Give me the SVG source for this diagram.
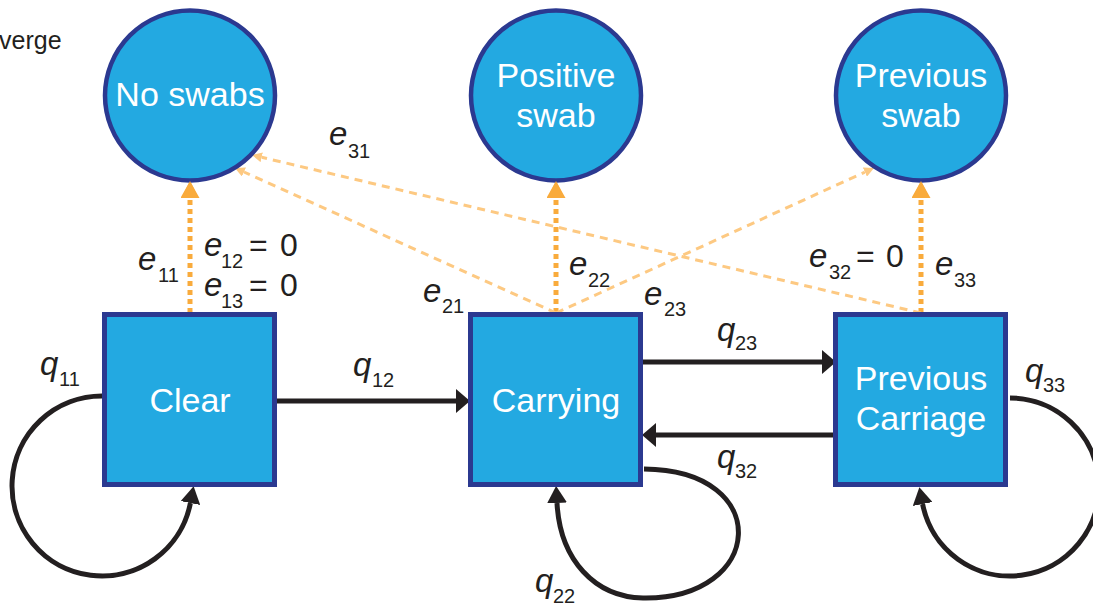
<svg xmlns="http://www.w3.org/2000/svg" width="1093" height="606" viewBox="0 0 1093 606">
<style>
.node{fill:#23a9e1;stroke:#2b3990;stroke-width:4.5}
.box{fill:#23a9e1;stroke:#2b3990;stroke-width:5}
.nt{font-family:"Liberation Sans",Arial,Helvetica,sans-serif;font-size:34px;fill:#ffffff;text-anchor:middle}
.lb{font-family:"Liberation Sans",Arial,Helvetica,sans-serif;font-size:32px;fill:#231f20}
.it{font-style:italic;font-size:33px}
.sb{font-size:20px}
.blk{fill:none;stroke:#231f20;stroke-width:5}
.dot{fill:none;stroke:#f9ab3c;stroke-width:5;stroke-dasharray:5 4}
.dsh{fill:none;stroke:#fdc982;stroke-width:3;stroke-dasharray:8 6}
</style>
<defs>
<marker id="ab" markerUnits="userSpaceOnUse" viewBox="0 0 14 24" markerWidth="14" markerHeight="24" refX="0" refY="12" orient="auto"><path d="M0,0 L14,12 L0,24 z" fill="#231f20"/></marker>
<marker id="al" markerUnits="userSpaceOnUse" viewBox="0 0 17 20" markerWidth="17" markerHeight="20" refX="0" refY="10" orient="auto"><path d="M0,0 L17,10 L0,20 z" fill="#231f20"/></marker>
<marker id="ao" markerUnits="userSpaceOnUse" viewBox="0 0 17 19" markerWidth="17" markerHeight="19" refX="0" refY="9.5" orient="auto"><path d="M0,0 L17,9.5 L0,19 z" fill="#f9ab3c"/></marker>
<marker id="ad" markerUnits="userSpaceOnUse" viewBox="0 0 10 10" markerWidth="10" markerHeight="10" refX="0" refY="5" orient="auto"><path d="M0,0 L10,5 L0,10 z" fill="#fdc982"/></marker>
</defs>
<text class="lb" x="-1" y="49" style="font-size:25px">verge</text>
<g id="connectors">
<path class="blk" d="M277,401 H456" marker-end="url(#ab)"/>
<path class="blk" d="M643,362 H822" marker-end="url(#ab)"/>
<path class="blk" d="M833,435 H656" marker-end="url(#ab)"/>
<path class="blk" d="M102,396 A90,90 0 1 0 190.4,503" marker-end="url(#al)"/>
<path class="blk" d="M644,469 C775,470 765,600 643,598 C595,597 560,560 557,503" marker-end="url(#al)"/>
<path class="blk" d="M1010,398 A89,89 0 1 1 922.6,504" marker-end="url(#al)"/>
<path class="dot" d="M190,313 V198" marker-end="url(#ao)"/>
<path class="dot" d="M556,313 V198" marker-end="url(#ao)"/>
<path class="dot" d="M921,313 V198" marker-end="url(#ao)"/>
<path class="dsh" d="M556,313 L244,172" marker-end="url(#ad)"/>
<path class="dsh" d="M921,313 L261.7,157.3" marker-end="url(#ad)"/>
<path class="dsh" d="M556,313 L864.9,172.1" marker-end="url(#ad)"/>
</g>
<g id="labels">
<text class="lb"><tspan class="it" x="329" y="145">e</tspan><tspan class="sb" x="348" y="158">31</tspan></text>
<text class="lb"><tspan class="it" x="138" y="270">e</tspan><tspan class="sb" x="158" y="282">11</tspan></text>
<text class="lb"><tspan class="it" x="204" y="256">e</tspan><tspan class="sb" x="221" y="268">12</tspan><tspan x="249" y="256">=</tspan><tspan x="280" y="256">0</tspan></text>
<text class="lb"><tspan class="it" x="204" y="296">e</tspan><tspan class="sb" x="221" y="308">13</tspan><tspan x="249" y="296">=</tspan><tspan x="280" y="296">0</tspan></text>
<text class="lb"><tspan class="it" x="423" y="302">e</tspan><tspan class="sb" x="442" y="313">21</tspan></text>
<text class="lb"><tspan class="it" x="569" y="275">e</tspan><tspan class="sb" x="588" y="287">22</tspan></text>
<text class="lb"><tspan class="it" x="644" y="305">e</tspan><tspan class="sb" x="664" y="316">23</tspan></text>
<text class="lb"><tspan class="it" x="809" y="267">e</tspan><tspan class="sb" x="829" y="279">32</tspan><tspan x="856" y="267">=</tspan><tspan x="886" y="267">0</tspan></text>
<text class="lb"><tspan class="it" x="935" y="275">e</tspan><tspan class="sb" x="954" y="287">33</tspan></text>
<text class="lb"><tspan class="it" x="40" y="375">q</tspan><tspan class="sb" x="59" y="386">11</tspan></text>
<text class="lb"><tspan class="it" x="353" y="376">q</tspan><tspan class="sb" x="372" y="387">12</tspan></text>
<text class="lb"><tspan class="it" x="717" y="341">q</tspan><tspan class="sb" x="735" y="350">23</tspan></text>
<text class="lb"><tspan class="it" x="717" y="468">q</tspan><tspan class="sb" x="735" y="478">32</tspan></text>
<text class="lb"><tspan class="it" x="535" y="592">q</tspan><tspan class="sb" x="553" y="603">22</tspan></text>
<text class="lb"><tspan class="it" x="1025" y="382">q</tspan><tspan class="sb" x="1043" y="392">33</tspan></text>
</g>
<g id="no-swabs"><circle class="node" cx="190" cy="95.5" r="85"/><text class="nt" x="190" y="106">No swabs</text></g>
<g id="positive-swab"><circle class="node" cx="556" cy="95.5" r="85"/><text class="nt" x="556" y="87">Positive</text><text class="nt" x="556" y="127">swab</text></g>
<g id="previous-swab"><circle class="node" cx="921" cy="95.5" r="85"/><text class="nt" x="921" y="87">Previous</text><text class="nt" x="921" y="127">swab</text></g>
<g id="clear"><rect class="box" x="104.5" y="314.5" width="170" height="170"/><text class="nt" x="190" y="412">Clear</text></g>
<g id="carrying"><rect class="box" x="470.5" y="314.5" width="170" height="170"/><text class="nt" x="556" y="412">Carrying</text></g>
<g id="previous-carriage"><rect class="box" x="835.5" y="314.5" width="170" height="170"/><text class="nt" x="921" y="390">Previous</text><text class="nt" x="921" y="430">Carriage</text></g>
<g id="arrowheads-top">
<path d="M181.5,198 L190,181 L198.5,198 z" fill="#f9ab3c"/>
<path d="M547.5,198 L556,181 L564.5,198 z" fill="#f9ab3c"/>
<path d="M912.5,198 L921,181 L929.5,198 z" fill="#f9ab3c"/>
</g>
</svg>
